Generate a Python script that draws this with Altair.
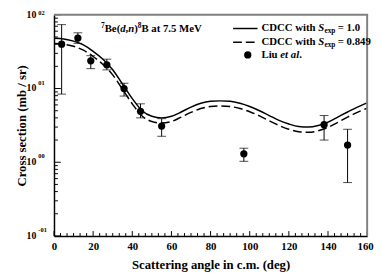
import altair as alt
import pandas as pd

SERIF = "Liberation Serif"

# Experimental data (Liu et al.)
exp_angle = [3.9, 12.2, 18.8, 27.0, 35.8, 44.2, 55.0, 97.0, 138.0, 150.0]
exp_sigma = [40.0, 48.4, 23.8, 21.0, 10.0, 4.9, 3.1, 1.30, 3.23, 1.71]
exp_hi = [73.6, 57.0, 27.9, 25.0, 11.8, 6.2, 3.9, 1.55, 4.3, 2.8]
exp_lo = [8.4, 41.0, 18.6, 17.9, 7.9, 4.0, 2.25, 1.03, 2.0, 0.53]

# CDCC curves
theta = [0, 5, 10, 15, 20, 25, 30, 35, 40, 45, 50, 55, 60, 65, 70, 75, 80,
         85, 90, 95, 100, 105, 110, 115, 120, 125, 130, 135, 140, 145, 150, 155, 160]
cdcc_s10 = [48, 47, 44, 39, 32, 25, 18, 11.5, 7.3, 5.0, 4.2, 4.0, 4.2, 4.8, 5.6, 6.3, 6.7,
            6.8, 6.7, 6.3, 5.7, 5.0, 4.3, 3.7, 3.3, 3.05, 3.0, 3.15, 3.5, 4.1, 4.8, 5.6, 6.4]
cdcc_s0849 = [40.8, 39.9, 37.4, 33.1, 27.2, 21.2, 15.3, 9.8, 6.2, 4.25, 3.57, 3.4, 3.57, 4.1,
              4.75, 5.35, 5.7, 5.8, 5.7, 5.35, 4.85, 4.25, 3.65, 3.15, 2.8, 2.6, 2.55, 2.67,
              2.97, 3.48, 4.1, 4.75, 5.4]

# Axis ticks / labels
x_major = [0, 20, 40, 60, 80, 100, 120, 140, 160]
x_minor = [m + k * 20 / 6 for m in x_major[:-1] for k in range(1, 6)]
y_major = [0.1, 1, 10]
y_major_sup = ["-01", "00", "01"]
y_top = [100]
y_top_sup = ["02"]
y_minor = [d * m for d in [0.1, 1, 10] for m in range(2, 10)]

W, H = 320, 226

xs = alt.Scale(domain=[0, 160], nice=False, zero=False)
ys = alt.Scale(type="log", domain=[0.1, 100], nice=False)

xaxis = alt.Axis(values=x_major, ticks=False, grid=False, labelFont=SERIF, labelFontWeight="bold",
                 labelFontSize=11, labelColor="black", labelPadding=5, labelFlush=False,
                 labelOffset={"condition": {"test": "datum.value == 160", "value": -2}, "value": 0},
                 domainColor="black", domainWidth=1.5,
                 title="Scattering angle in c.m. (deg)", titleFont=SERIF, titleFontWeight="bold",
                 titleFontSize=13, titleColor="black", titleBaseline="middle", titleY=29)
yaxis = alt.Axis(values=y_major + y_top, labels=False, ticks=False, grid=False,
                 domainColor="black", domainWidth=1.5,
                 title="Cross section (mb / sr)", titleFont=SERIF, titleFontWeight="bold",
                 titleFontSize=13, titleColor="black", titleAngle=270, titleBaseline="middle",
                 titleAlign="center", titleX=-33, titleY=H / 2)


def X(f):
    return alt.X(f, type="quantitative", scale=xs, axis=xaxis)


def Y(f):
    return alt.Y(f, type="quantitative", scale=ys, axis=yaxis)


curves = pd.DataFrame({"x": theta, "s10": cdcc_s10, "s0849": cdcc_s0849})
solid = alt.Chart(curves).mark_line(color="black", strokeWidth=1.5, interpolate="monotone").encode(
    x=X("x"), y=Y("s10"))
dashed = alt.Chart(curves).mark_line(color="black", strokeWidth=1.5, strokeDash=[9, 4],
                                     interpolate="monotone").encode(x=X("x"), y=Y("s0849"))

exp = pd.DataFrame({"x": exp_angle, "y": exp_sigma, "hi": exp_hi, "lo": exp_lo})
ebar = alt.Chart(exp).mark_rule(color="black", strokeWidth=1).encode(x=X("x"), y=Y("lo"), y2="hi")
cap_hi = alt.Chart(exp).mark_tick(color="black", orient="horizontal", size=9, thickness=1).encode(
    x=X("x"), y=Y("hi"))
cap_lo = alt.Chart(exp).mark_tick(color="black", orient="horizontal", size=9, thickness=1).encode(
    x=X("x"), y=Y("lo"))
pts = alt.Chart(exp).mark_circle(color="black", opacity=1, size=55).encode(x=X("x"), y=Y("y"))

# inward ticks
xt_major = alt.Chart(pd.DataFrame({"x": x_major})).mark_rule(color="black", strokeWidth=1).encode(
    x=X("x"), y=alt.value(H), y2=alt.value(H - 5))
xt_minor = alt.Chart(pd.DataFrame({"x": x_minor})).mark_rule(color="black", strokeWidth=1).encode(
    x=X("x"), y=alt.value(H), y2=alt.value(H - 3))
yt_major = alt.Chart(pd.DataFrame({"y": y_major + y_top})).mark_rule(color="black", strokeWidth=1).encode(
    y=Y("y"), x=alt.value(0), x2=alt.value(7))
yt_minor = alt.Chart(pd.DataFrame({"y": y_minor})).mark_rule(color="black", strokeWidth=1).encode(
    y=Y("y"), x=alt.value(0), x2=alt.value(4))

# y tick labels 10^n
ylab = pd.DataFrame({"y": y_major + y_top, "base": ["10"] * 4})
ylab_base = alt.Chart(ylab).mark_text(font=SERIF, fontWeight="bold", fontSize=10, align="right",
                                      baseline="middle", color="black").encode(
    y=Y("y"), x=alt.value(-18), text="base:N")
ylab_sup = alt.Chart(pd.DataFrame({"y": y_major, "sup": y_major_sup})).mark_text(
    font=SERIF, fontWeight="bold", fontSize=6.5, align="left", baseline="middle", dy=-6,
    color="black").encode(y=Y("y"), x=alt.value(-16), text="sup:N")
ylab_sup_top = alt.Chart(pd.DataFrame({"y": y_top, "sup": y_top_sup})).mark_text(
    font=SERIF, fontWeight="bold", fontSize=6.5, align="left", baseline="middle", dy=-2,
    color="black").encode(y=Y("y"), x=alt.value(-16), text="sup:N")

# frame (top/right)
frame_top = alt.Chart(pd.DataFrame({"a": [0]})).mark_rule(color="#808080", strokeWidth=2).encode(
    x=alt.value(0), x2=alt.value(W + 1), y=alt.value(0))
frame_right = alt.Chart(pd.DataFrame({"a": [0]})).mark_rule(color="#808080", strokeWidth=2).encode(
    x=alt.value(W), y=alt.value(0), y2=alt.value(H))


def txt(s, x, y, size=11, style="normal", dy=0):
    return alt.Chart(pd.DataFrame({"t": [s]})).mark_text(
        font=SERIF, fontWeight="bold", fontStyle=style, fontSize=size, align="left",
        baseline="middle", dy=dy, color="black").encode(x=alt.value(x), y=alt.value(y), text="t:N")


texts = [
    # reaction label
    txt("7", 48, 15, size=7.5, dy=-4),
    txt("Be(", 51.8, 15),
    txt("d", 67.6, 15, style="italic"),
    txt(",", 73.1, 15),
    txt("n", 75.9, 15, style="italic"),
    txt(")", 82.0, 15),
    txt("8", 85.7, 15, size=7.5, dy=-4),
    txt("B at 7.5 MeV", 89.4, 15),
    # legend
    txt("CDCC with", 212, 14),
    txt("S", 270, 14, style="italic"),
    txt("exp", 276.3, 14, size=7.5, dy=3),
    txt("= 1.0", 290, 14),
    txt("CDCC with", 212, 28),
    txt("S", 270, 28, style="italic"),
    txt("exp", 276.3, 28, size=7.5, dy=3),
    txt("= 0.849", 290, 28),
    txt("Liu", 212, 41),
    txt("et al", 231.3, 41, style="italic"),
    txt(".", 250.5, 41),
]

leg_solid = alt.Chart(pd.DataFrame({"a": [0]})).mark_rule(color="black", strokeWidth=1.5).encode(
    x=alt.value(183), x2=alt.value(208), y=alt.value(14))
leg_dash = alt.Chart(pd.DataFrame({"a": [0]})).mark_rule(color="black", strokeWidth=1.5,
                                                         strokeDash=[9, 4]).encode(
    x=alt.value(183), x2=alt.value(208), y=alt.value(28))
leg_dot = alt.Chart(pd.DataFrame({"a": [0]})).mark_circle(color="black", opacity=1, size=55).encode(
    x=alt.value(198), y=alt.value(41))

chart = alt.layer(
    solid, dashed, ebar, cap_hi, cap_lo, pts,
    xt_major, xt_minor, yt_major, yt_minor, ylab_base, ylab_sup, ylab_sup_top,
    frame_top, frame_right, leg_solid, leg_dash, leg_dot, *texts
).properties(
    width=W, height=H,
    autosize=alt.AutoSizeParams(type="none"),
    padding={"left": 47, "top": 4, "right": 7, "bottom": 40},
    background="white",
).configure_view(stroke=None)

chart.save("out.html", embed_options={"renderer": "svg", "actions": False})
